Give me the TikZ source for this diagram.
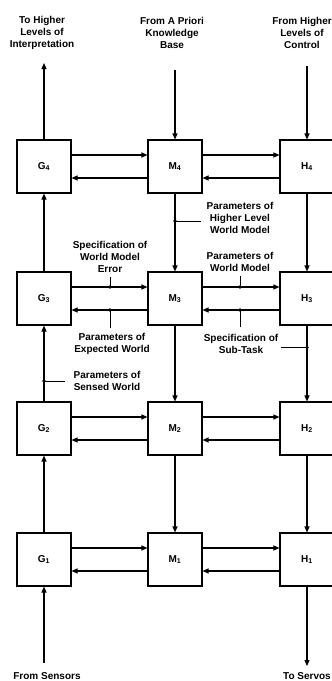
\documentclass[tikz,border=0pt]{standalone}
\usepackage{fontspec}
\setmainfont{Liberation Sans}
\usetikzlibrary{arrows.meta}
\begin{document}
\begin{tikzpicture}[x=1pt,y=-1pt,
  blk/.style={draw, line width=1.1pt, minimum width=54pt, minimum height=53pt, inner sep=0pt, font=\fontsize{10}{12}\selectfont\bfseries},
  lbl/.style={align=center, inner sep=0pt, font=\fontsize{10}{12}\selectfont\bfseries},
  con/.style={line width=1.1pt, -{Triangle[length=6pt,width=5pt]}},
  tickl/.style={line width=1pt},
  dotn/.style={circle, fill, inner sep=0pt, minimum size=3.6pt}]
\useasboundingbox (0,0) rectangle (332,681);
% boxes
\foreach \r/\yy in {4/166.5,3/298.5,2/428.5,1/559.5}{
  \node[blk] (G\r) at (44,\yy) {G\textsubscript{\r}};
  \node[blk] (M\r) at (175,\yy) {M\textsubscript{\r}};
  \node[blk] (H\r) at (307,\yy) {H\textsubscript{\r}};
  \draw[con] ([yshift=11.5pt]G\r.east) -- ([yshift=11.5pt]M\r.west);
  \draw[con] ([yshift=-11.5pt]M\r.west) -- ([yshift=-11.5pt]G\r.east);
  \draw[con] ([yshift=11.5pt]M\r.east) -- ([yshift=11.5pt]H\r.west);
  \draw[con] ([yshift=-11.5pt]H\r.west) -- ([yshift=-11.5pt]M\r.east);
}
% vertical connections
\foreach \a/\b in {1/2,2/3,3/4}{
  \draw[con] (G\a.north) -- (G\b.south);
  \draw[con] (M\b.south) -- (M\a.north);
  \draw[con] (H\b.south) -- (H\a.north);
}
% external connectors
\coordinate (gtop) at (44,63);
\coordinate (mtop) at (175,70);
\coordinate (htop) at (307,66);
\coordinate (gbot) at (44,663);
\coordinate (hbot) at (307,666);
\draw[con] (G4.north) -- (gtop);
\draw[con] (mtop) -- (M4.north);
\draw[con] (htop) -- (H4.north);
\draw[con] (gbot) -- (G1.south);
\draw[con] (H1.south) -- (hbot);
% outer texts
\node[lbl] (tI) at (42,33) {To Higher\\Levels of\\Interpretation};
\node[lbl] (tK) at (172,33) {From A Priori\\Knowledge\\Base};
\node[lbl] (tC) at (302,33) {From Higher\\Levels of\\Control};
\node[lbl] (tS) at (47,676) {From Sensors};
\node[lbl, anchor=west] (tV) at (283,676) {To Servos};
% labels with ticks
\node[lbl] (pH) at (240,218) {Parameters of\\Higher Level\\World Model};
\node[dotn] (d1) at (175,221) {};
\coordinate (e1) at (201,221);
\draw[tickl] (d1.center) -- (e1);

\node[lbl] (sE) at (110,257) {Specification of\\World Model\\Error};
\node[dotn] (d2) at (110,287) {};
\coordinate (e2) at (110,277);
\draw[tickl] (d2.center) -- (e2);

\node[lbl] (pW) at (240,261.5) {Parameters of\\World Model};
\node[dotn] (d3) at (240,287) {};
\coordinate (e3) at (240,276);
\draw[tickl] (d3.center) -- (e3);

\node[lbl] (pE) at (112,344) {Parameters of\\Expected World};
\node[dotn] (d4) at (110,310) {};
\coordinate (e4) at (110,328);
\draw[tickl] (d4.center) -- (e4);

\node[lbl] (sT) at (241,344) {Specification of\\Sub-Task};
\node[dotn] (d5) at (240,310) {};
\coordinate (e5) at (240,327);
\draw[tickl] (d5.center) -- (e5);

\node[dotn] (d6) at (307,347.5) {};
\coordinate (e6) at (281,347.5);
\draw[tickl] (d6.center) -- (e6);

\node[lbl] (pS) at (107,380.5) {Parameters of\\Sensed World};
\node[dotn] (d7) at (44,381) {};
\coordinate (e7) at (65,381);
\draw[tickl] (d7.center) -- (e7);
\end{tikzpicture}
\end{document}
